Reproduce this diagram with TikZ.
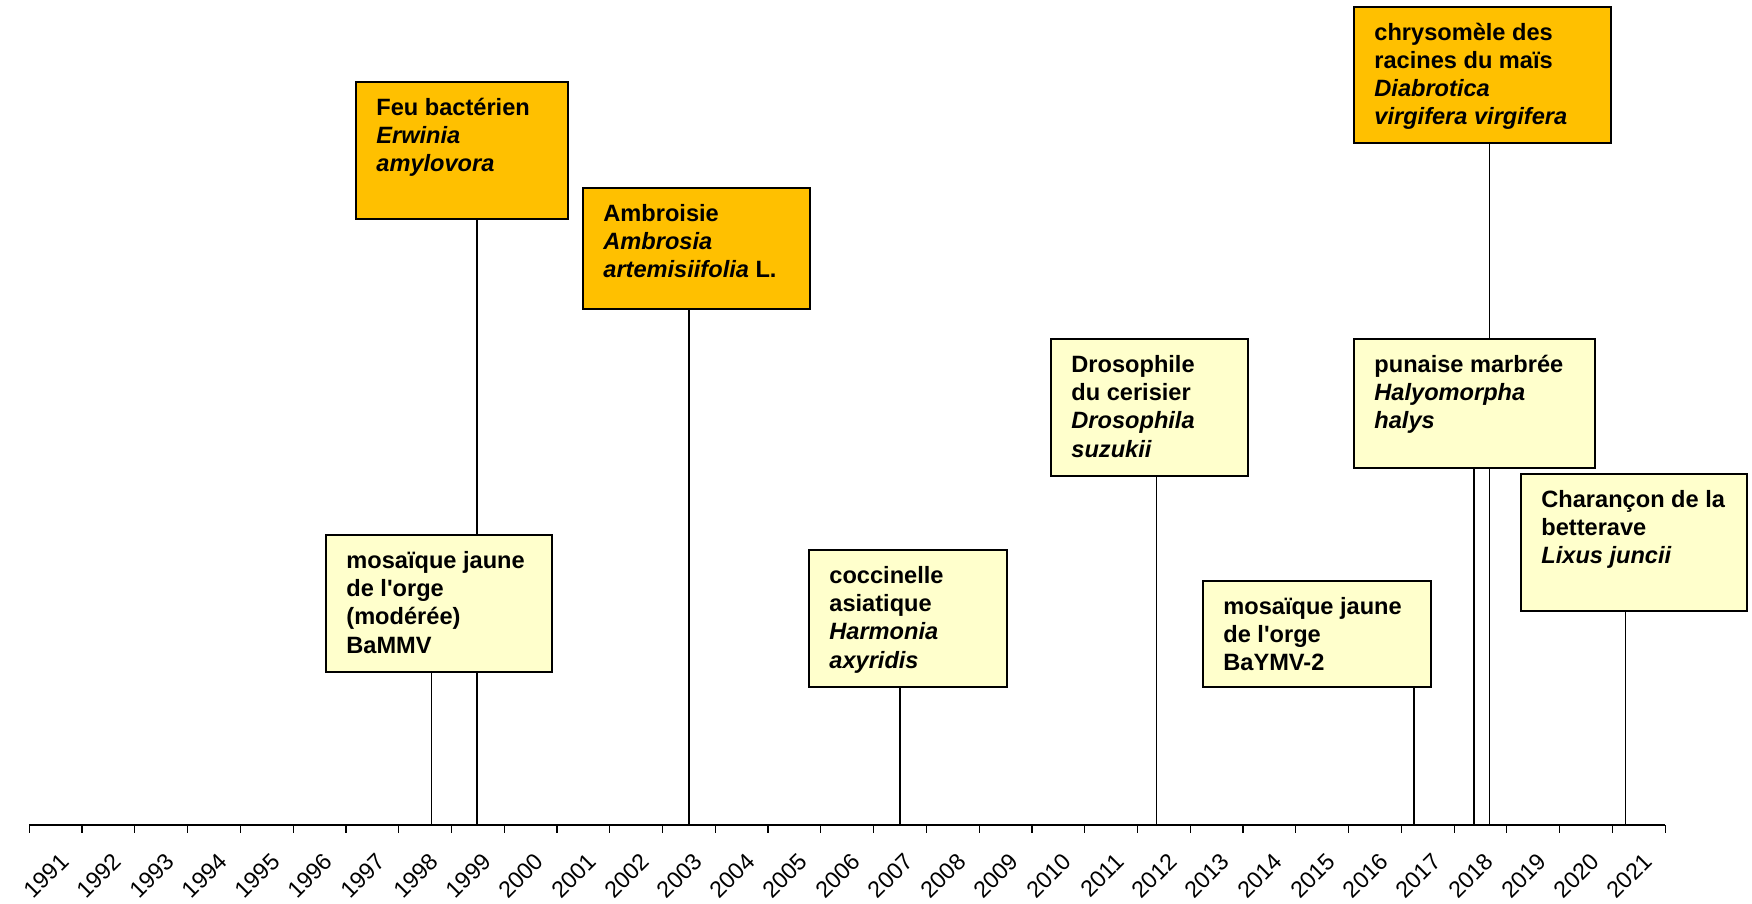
\documentclass[tikz,border=0pt]{standalone}
\usepackage{fontspec}
\setmainfont{Liberation Sans}
\pgfdeclarelayer{bg}
\pgfdeclarelayer{lines}
\pgfsetlayers{bg,lines,main}
\definecolor{gold}{HTML}{FFC000}
\definecolor{paleyellow}{HTML}{FFFFCC}
\newcommand\yearfont{\fontsize{11.6pt}{14pt}\selectfont}
\begin{document}
\begin{tikzpicture}[x=0.5pt,y=-0.5pt,
  evbox/.style={draw=black, line width=0.9pt, anchor=north west, inner sep=0pt, outer sep=0pt},
  orangebox/.style={evbox, fill=gold},
  yellowbox/.style={evbox, fill=paleyellow},
  boxtext/.style={anchor=north west, inner sep=0pt, align=left, font=\bfseries\fontsize{11.8pt}{14.1pt}\selectfont},
  conn/.style={line width=0.8pt, draw=black},
  axisline/.style={line width=0.6pt, draw=black},
  yearlabel/.style={rotate=45, anchor=north east, inner sep=0pt}]

\begin{pgfonlayer}{bg}
\fill[white] (0,0) rectangle (1752,904);
\end{pgfonlayer}
\useasboundingbox (0,0) rectangle (1752,904);

% axis
\coordinate (axstart) at (29.3,825);
\coordinate (axend) at (1665.3,825);
\draw[axisline] (axstart) -- (axend);
\foreach \k in {0,...,31}{
  \draw[axisline] ({29.3+52.77*\k},825) -- ++(0,8);
}
\foreach \k in {0,...,30}{
  \pgfmathtruncatemacro\yr{1991+\k}
  \node[yearlabel] (lab\k) at ({29.3+52.77*(\k+0.5)+3},851) {\yearfont\yr};
}

% event positions on the axis
\coordinate (y1998) at (431.5,825);
\coordinate (y1999) at (477,825);
\coordinate (y2003) at (688.7,825);
\coordinate (y2007) at (900,825);
\coordinate (y2012) at (1156.5,825);
\coordinate (y2017) at (1414,825);
\coordinate (y2018a) at (1474,825);
\coordinate (y2018b) at (1489.5,825);
\coordinate (y2021) at (1625.5,825);

% boxes
\node[orangebox, minimum width=106pt, minimum height=68.5pt] (feu) at (356,82) {};
\node[orangebox, minimum width=113.5pt, minimum height=60.5pt] (ambr) at (583,188) {};
\node[orangebox, minimum width=128.5pt, minimum height=68pt] (chrys) at (1354,7) {};
\node[yellowbox, minimum width=113pt, minimum height=68.5pt] (bammv) at (326,535) {};
\node[yellowbox, minimum width=99pt, minimum height=68.5pt] (cocc) at (809,550) {};
\node[yellowbox, minimum width=98.5pt, minimum height=68.5pt] (dros) at (1051,339) {};
\node[yellowbox, minimum width=120.5pt, minimum height=64.5pt] (puna) at (1354,339) {};
\node[yellowbox, minimum width=114pt, minimum height=53pt] (baymv) at (1203,581) {};
\node[yellowbox, minimum width=113pt, minimum height=68.5pt] (char) at (1521,474) {};

% texts
\node[boxtext] (feut) at ([shift={(10pt,-4.5pt)}]feu.north west)
  {\rule{0pt}{12pt}Feu bactérien\\\textit{Erwinia}\\\textit{amylovora}};
\node[boxtext] (ambrt) at ([shift={(10pt,-4.5pt)}]ambr.north west)
  {\rule{0pt}{12pt}Ambroisie\\\textit{Ambrosia}\\\textit{artemisiifolia} L.};
\node[boxtext] (chryst) at ([shift={(10pt,-4.5pt)}]chrys.north west)
  {\rule{0pt}{12pt}chrysomèle des\\racines du maïs\\\textit{Diabrotica}\\\textit{virgifera virgifera}};
\node[boxtext] (bammvt) at ([shift={(10pt,-4.5pt)}]bammv.north west)
  {\rule{0pt}{12pt}mosaïque jaune\\de l\textquotesingle orge\\(modérée)\\BaMMV};
\node[boxtext] (cocct) at ([shift={(10pt,-4.5pt)}]cocc.north west)
  {\rule{0pt}{12pt}coccinelle\\asiatique\\\textit{Harmonia}\\\textit{axyridis}};
\node[boxtext] (drost) at ([shift={(10pt,-4.5pt)}]dros.north west)
  {\rule{0pt}{12pt}Drosophile\\du cerisier\\\textit{Drosophila}\\\textit{suzukii}};
\node[boxtext] (punat) at ([shift={(10pt,-4.5pt)}]puna.north west)
  {\rule{0pt}{12pt}punaise marbrée\\\textit{Halyomorpha}\\\textit{halys}};
\node[boxtext] (baymvt) at ([shift={(10pt,-4.5pt)}]baymv.north west)
  {\rule{0pt}{12pt}mosaïque jaune\\de l\textquotesingle orge\\BaYMV-2};
\node[boxtext] (chart) at ([shift={(10pt,-4.5pt)}]char.north west)
  {\rule{0pt}{12pt}Charançon de la\\betterave\\\textit{Lixus juncii}};

% connectors (behind the boxes)
\begin{pgfonlayer}{lines}
\draw[conn] (y1998 |- bammv.south) -- (y1998);
\draw[conn] (y1999 |- feu.south) -- (y1999);
\draw[conn] (y2003 |- ambr.south) -- (y2003);
\draw[conn] (y2007 |- cocc.south) -- (y2007);
\draw[conn] (y2012 |- dros.south) -- (y2012);
\draw[conn] (y2017 |- baymv.south) -- (y2017);
\draw[conn] (y2018a |- puna.south) -- (y2018a);
\draw[conn] (y2018b |- chrys.south) -- (y2018b);
\draw[conn] (y2021 |- char.south) -- (y2021);
\end{pgfonlayer}
\end{tikzpicture}
\end{document}
